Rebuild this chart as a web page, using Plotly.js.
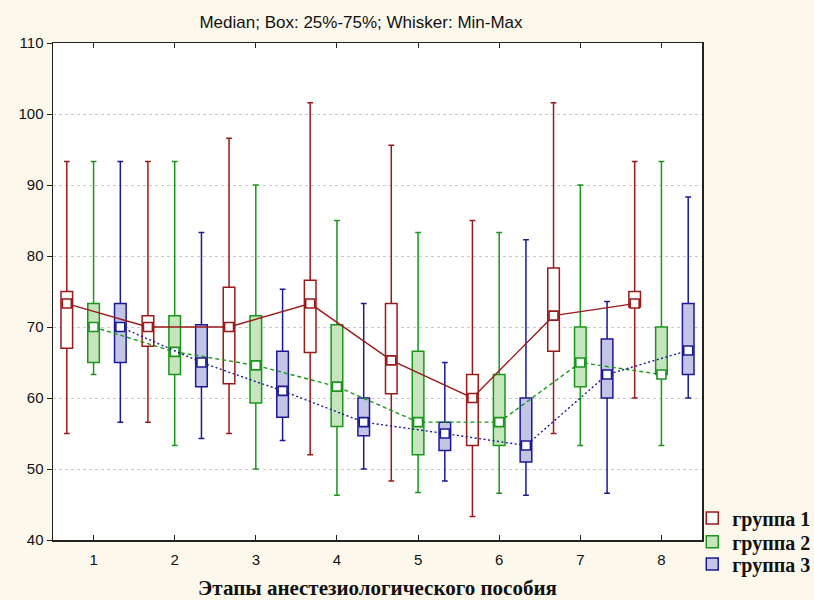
<!DOCTYPE html>
<html><head><meta charset="utf-8">
<script src="https://cdn.plot.ly/plotly-3.0.1.min.js"></script>
<style>html,body{margin:0;padding:0;background:#fdf8ec;}</style>
</head><body><div id="chart" style="width:814px;height:600px;"></div>
<script>
const stages = [1, 2, 3, 4, 5, 6, 7, 8];
const groupNames = ["группа 1", "группа 2", "группа 3"];
const yTicks = [40, 50, 60, 70, 80, 90, 100, 110];

const g1Max = [93.3, 93.3, 96.6, 101.6, 95.6, 85.0, 101.6, 93.3];
const g1Q3  = [75.0, 71.6, 75.6, 76.6, 73.3, 63.3, 78.3, 75.0];
const g1Med = [73.3, 70.0, 70.0, 73.3, 65.3, 60.0, 71.6, 73.3];
const g1Q1  = [67.0, 67.3, 62.0, 66.4, 60.6, 53.3, 66.6, 72.8];
const g1Min = [55.0, 56.6, 55.0, 52.0, 48.3, 43.3, 55.0, 60.0];

const g2Max = [93.3, 93.3, 90.0, 85.0, 83.3, 83.3, 90.0, 93.3];
const g2Q3  = [73.3, 71.6, 71.6, 70.3, 66.6, 63.3, 70.0, 70.0];
const g2Med = [70.0, 66.5, 64.6, 61.6, 56.6, 56.6, 65.0, 63.3];
const g2Q1  = [65.0, 63.3, 59.3, 56.0, 52.0, 53.3, 61.6, 63.3];
const g2Min = [63.3, 53.3, 50.0, 46.3, 46.7, 46.6, 53.3, 53.3];

const g3Max = [93.3, 83.3, 75.3, 73.3, 65.0, 82.3, 73.6, 88.3];
const g3Q3  = [73.3, 70.3, 66.6, 60.0, 56.6, 60.0, 68.3, 73.3];
const g3Med = [70.0, 65.0, 61.0, 56.6, 55.0, 53.3, 63.3, 66.7];
const g3Q1  = [65.0, 61.6, 57.3, 54.7, 52.6, 51.0, 60.0, 63.3];
const g3Min = [56.6, 54.3, 54.0, 50.0, 48.3, 46.3, 46.6, 60.0];

const groups = [
  {name: groupNames[0], max: g1Max, q3: g1Q3, med: g1Med, q1: g1Q1, min: g1Min},
  {name: groupNames[1], max: g2Max, q3: g2Q3, med: g2Med, q1: g2Q1, min: g2Min},
  {name: groupNames[2], max: g3Max, q3: g3Q3, med: g3Med, q1: g3Q1, min: g3Min}
];
const colors = ["#9a1a1a", "#1a961a", "#1a1a96"];
const fills = ["#ffffff", "#c6e5bf", "#c4c4e6"];
const dashes = ["solid", "4px,3px", "2px,2.5px"];
const offsets = [-0.33, 0, 0.33];
const legendIds = ["legend", "legend2", "legend3"];

const traces = [];
groups.forEach((g, i) => {
  const xs = stages.map(s => s + offsets[i]);
  traces.push({
    type: "box", name: g.name, x: xs, legend: legendIds[i],
    q1: g.q1, median: g.med, q3: g.q3, lowerfence: g.min, upperfence: g.max,
    width: 0.143, whiskerwidth: 0.5, boxpoints: false,
    line: {color: colors[i], width: 1.5}, fillcolor: fills[i],
    hoverinfo: "skip", showlegend: true
  });
});
groups.forEach((g, i) => {
  const xs = stages.map(s => s + offsets[i]);
  traces.push({
    type: "scatter", mode: "lines+markers", x: xs, y: g.med, showlegend: false,
    line: {color: colors[i], width: 1.4, dash: dashes[i]},
    marker: {symbol: "square", size: 9, color: "#ffffff", line: {color: colors[i], width: 1.6}},
    hoverinfo: "skip"
  });
});

const legFont = {family: "Liberation Serif, Times New Roman", size: 20, color: "#111", weight: "bold"};
function leg(yc) {
  return {x: 0.985, xanchor: "left", y: yc, yanchor: "middle", bgcolor: "rgba(0,0,0,0)",
          font: legFont, itemwidth: 30, borderwidth: 0};
}

const layout = {
  width: 814, height: 600,
  paper_bgcolor: "#fdf8ec", plot_bgcolor: "#ffffff",
  margin: {l: 53, r: 112, t: 43, b: 60, autoexpand: false},
  boxmode: "overlay",
  title: {text: "Median; Box: 25%-75%; Whisker: Min-Max", font: {family: "Liberation Sans, Arial", size: 17, color: "#111"},
          x: 0.4746, xref: "paper", xanchor: "center", y: 0.963, yref: "container", yanchor: "middle"},
  xaxis: {range: [0.5, 8.5], tickvals: stages, ticktext: stages.map(String),
          showgrid: false, zeroline: false, showline: true, linecolor: "#222", linewidth: 1.5, mirror: "ticks",
          ticks: "inside", ticklen: 5, tickcolor: "#222", ticklabelstandoff: 5,
          tickfont: {family: "Liberation Sans, Arial", size: 15, color: "#111"},
          title: {text: "Этапы анестезиологического пособия", standoff: 16,
                  font: {family: "Liberation Serif, Times New Roman", size: 21, color: "#111", weight: "bold"}}},
  yaxis: {range: [40, 110], tickvals: yTicks,
          showgrid: true, gridcolor: "#c8c8c8", griddash: "dot", gridwidth: 1,
          zeroline: false, showline: true, linecolor: "#222", linewidth: 1.5, mirror: true,
          ticks: "outside", ticklen: 5, tickcolor: "#222",
          tickfont: {family: "Liberation Sans, Arial", size: 15, color: "#111"}},
  yaxis2: {overlaying: "y", side: "right", anchor: "x", range: [40, 110], tickvals: yTicks,
           showticklabels: false, showgrid: false, zeroline: false, showline: false,
           ticks: "inside", ticklen: 5, tickcolor: "#222", tickwidth: 1},
  legend: leg(0.0443),
  legend2: leg(-0.0034),
  legend3: leg(-0.0483),
  showlegend: true
};
Plotly.newPlot("chart", traces, layout, {displayModeBar: false, staticPlot: true});
</script></body></html>
